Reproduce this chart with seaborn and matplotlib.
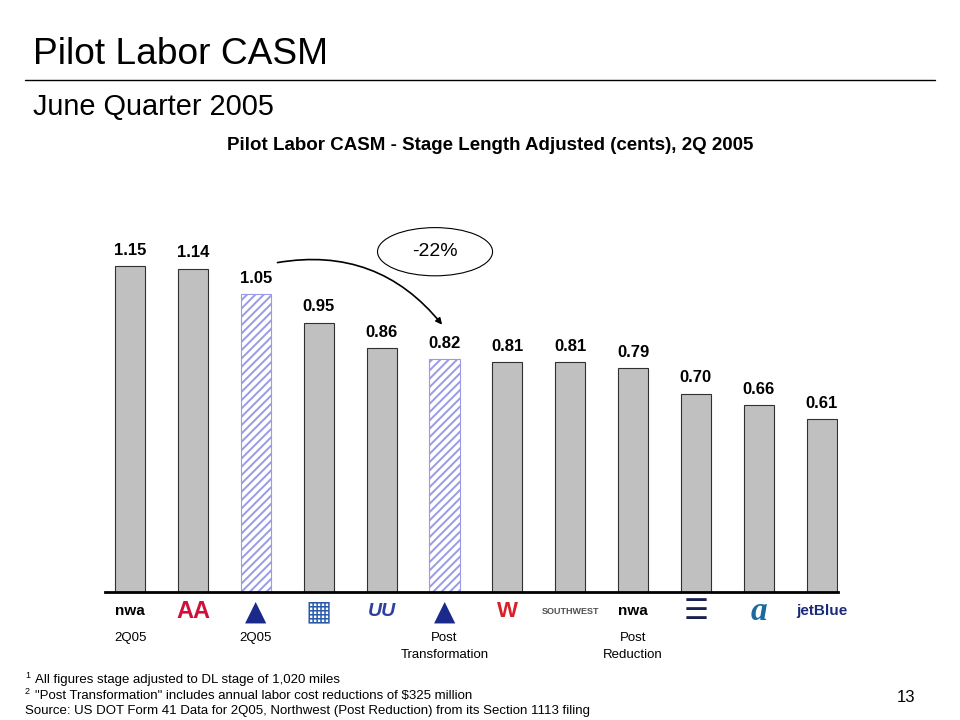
import matplotlib.pyplot as plt
import seaborn as sns
from matplotlib.patches import Ellipse

# Data (cents per ASM, stage-length adjusted, 2Q 2005)
carriers = ["NWA 2Q05", "AA", "DL 2Q05", "CO", "UA", "DL Post Transformation",
            "HP", "WN", "NWA Post Reduction", "US", "FL", "B6"]
casm = [1.15, 1.14, 1.05, 0.95, 0.86, 0.82, 0.81, 0.81, 0.79, 0.70, 0.66, 0.61]
hatched = [False, False, True, False, False, True,
           False, False, False, False, False, False]

# Logo stand-ins (text) and labels under the axis
logo_text = ["nwa", "AA", "\u25B2", "\u25A6", "UU", "\u25B2",
             "W", "SOUTHWEST", "nwa", "\u2630", "a", "jetBlue"]
logo_color = ["black", "#d0103a", "#1a2a8a", "#2a5aa8", "#3040a0", "#1a2a8a",
              "#d8202a", "#505050", "black", "#1a2050", "#1a6aa0", "#1a2a7a"]
logo_size = [11, 17, 20, 20, 14, 20, 16, 6.5, 11, 20, 24, 11]
logo_style = ["normal", "normal", "normal", "normal", "italic", "normal",
              "normal", "normal", "normal", "normal", "italic", "normal"]
logo_family = ["Liberation Sans", "Liberation Sans", "DejaVu Sans", "DejaVu Sans",
               "Liberation Sans", "DejaVu Sans", "Liberation Sans", "Liberation Sans",
               "Liberation Sans", "DejaVu Sans", "Liberation Serif", "Liberation Sans"]
sub_labels = ["2Q05", "", "2Q05", "", "", "Post\nTransformation",
              "", "", "Post\nReduction", "", "", ""]

footnotes = ["All figures stage adjusted to DL stage of 1,020 miles",
             '"Post Transformation" includes annual labor cost reductions of $325 million',
             "Source: US DOT Form 41 Data for 2Q05, Northwest (Post Reduction) from its Section 1113 filing"]
footnote_marks = ["1", "2", ""]

sns.set_style("white")
plt.rcParams['font.family'] = ['Liberation Sans', 'DejaVu Sans']
plt.rcParams['text.color'] = 'black'
plt.rcParams['hatch.linewidth'] = 1.4

fig = plt.figure(figsize=(9.6, 7.2), dpi=100)
ax = fig.add_axes([105 / 960, 1 - 592 / 720, (838 - 105) / 960, 0.512])

bar_colors = ["white" if h else "#c0c0c0" for h in hatched]
sns.barplot(x=carriers, y=casm, hue=carriers, palette=bar_colors, legend=False,
            width=0.48, edgecolor="#303030", linewidth=0.8, ax=ax)

for cont, h, v in zip(ax.containers, hatched, casm):
    for bar in cont:
        if h:
            bar.set_hatch("////")
            bar.set_edgecolor("#9a9ae6")
    ax.bar_label(cont, labels=[f"{v:.2f}"], padding=6,
                 fontsize=12, fontweight="bold")

ax.set_xlim(-0.4, 11.26)
ax.set_ylim(0, 1.3)
ax.set_xticks([])
ax.set_yticks([])
ax.set_xlabel("")
ax.set_ylabel("")
for side in ["top", "left", "right"]:
    ax.spines[side].set_visible(False)
ax.spines["bottom"].set_linewidth(2)
ax.spines["bottom"].set_color("black")

# logos and labels under the axis
for i in range(len(carriers)):
    ax.annotate(logo_text[i], xy=(i, 0), xycoords=("data", "axes fraction"),
                xytext=(0, -14), textcoords="offset points",
                ha="center", va="center", fontsize=logo_size[i],
                color=logo_color[i], fontweight="bold",
                fontstyle=logo_style[i], family=logo_family[i])
    if sub_labels[i]:
        ax.annotate(sub_labels[i], xy=(i, 0), xycoords=("data", "axes fraction"),
                    xytext=(0, -29), textcoords="offset points",
                    ha="center", va="top", fontsize=9.5, linespacing=1.5)

# -22% callout
ax.annotate("", xy=(4.99, 0.935), xytext=(2.3, 1.16),
            arrowprops=dict(arrowstyle="-|>", connectionstyle="arc3,rad=-0.3",
                            color="black", lw=1.2, mutation_scale=9))
ax.add_patch(Ellipse((4.85, 1.2), 1.83, 0.17, facecolor="white",
                     edgecolor="black", lw=0.8, clip_on=False))
ax.text(4.85, 1.2, "-22%", ha="center", va="center", fontsize=14)

# slide text
fig.text(33 / 960, 1 - 55 / 720, "Pilot Labor CASM", fontsize=26.7, va="center")
fig.add_artist(plt.Line2D([25 / 960, 935 / 960], [1 - 80 / 720] * 2,
                          color="black", lw=1))
fig.text(33 / 960, 1 - 107 / 720, "June Quarter 2005", fontsize=20.8, va="center")
fig.text(490 / 960, 1 - 145 / 720,
         "Pilot Labor CASM - Stage Length Adjusted (cents), 2Q 2005",
         fontsize=13.5, fontweight="bold", ha="center", va="center")

for k, (mark, note) in enumerate(zip(footnote_marks, footnotes)):
    y = 1 - (680 + 15.5 * k) / 720
    if mark:
        fig.text(25 / 960, y + 4 / 720, mark, fontsize=6.5, va="center")
        fig.text(35 / 960, y, note, fontsize=9.5, va="center")
    else:
        fig.text(25 / 960, y, note, fontsize=9.5, va="center")
fig.text(906 / 960, 1 - 697 / 720, "13", fontsize=12, ha="center", va="center")

fig.savefig("out.png", dpi=100)
